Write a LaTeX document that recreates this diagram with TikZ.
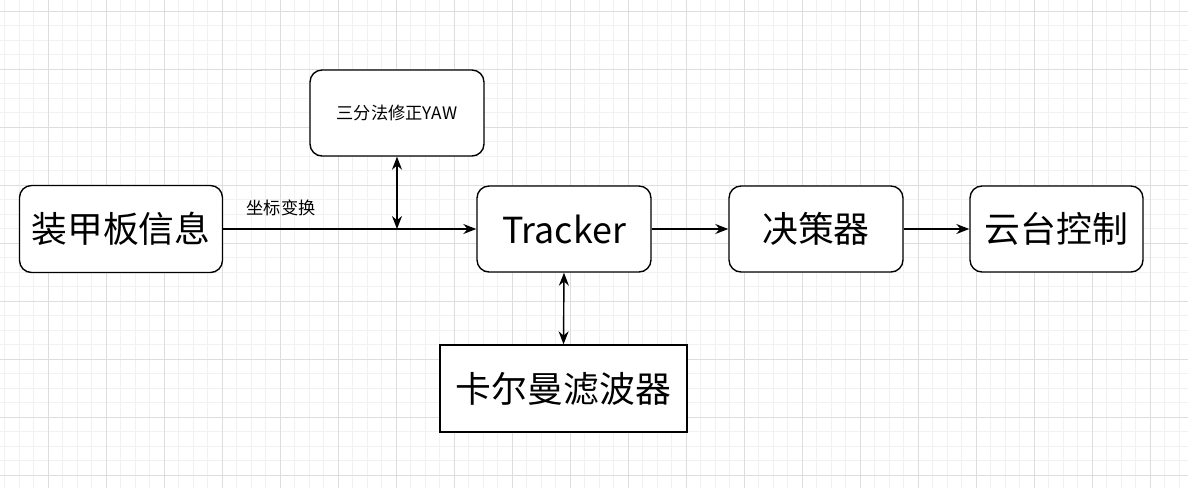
\documentclass[tikz,border=0pt]{standalone}
\usepackage{fontspec}
\setmainfont{Noto Sans CJK SC}
\usetikzlibrary{arrows.meta}
\definecolor{gridminor}{HTML}{F1F1F1}
\definecolor{gridmajor}{HTML}{DDDDDD}
\tikzset{
    blockbox/.style = {draw, line width = 0.8pt, rounded corners = 0.24cm, fill = white,
        inner sep = 0pt, minimum width = 3.48cm, minimum height = 1.72cm,
        font = \fontsize{20.4}{24}\selectfont},
    flowline/.style = {line width = 0.8pt, -{Stealth[length = 0.26cm, width = 0.2cm]}},
    dualline/.style = {line width = 0.8pt, {Stealth[length = 0.26cm, width = 0.2cm]}-{Stealth[length = 0.26cm, width = 0.2cm]}}
}
\begin{document}
\begin{tikzpicture}[x = 0.02cm, y = -0.02cm]
        \useasboundingbox (0, 0) rectangle (1188, 488);
        \fill [white] (0, 0) rectangle (1188, 488);
        % grid
        \foreach \gx in {-10, 4.5, ..., 1190} \draw [gridminor, line width = 0.5pt] (\gx, 0) -- (\gx, 488);
        \foreach \gy in {-3.2, 11.3, ..., 490} \draw [gridminor, line width = 0.5pt] (0, \gy) -- (1188, \gy);
        \foreach \gx in {48.3, 106.3, ..., 1190} \draw [gridmajor, line width = 0.6pt] (\gx, 0) -- (\gx, 488);
        \foreach \gy in {11.3, 69.3, ..., 490} \draw [gridmajor, line width = 0.6pt] (0, \gy) -- (1188, \gy);
        % blocks
        \node [blockbox, minimum width = 4.06cm, minimum height = 1.74cm] (armor) at (121, 229) {装甲板信息};
        \node [blockbox, font = \fontsize{9.8}{12}\selectfont] (yaw) at (397, 113) {三分法修正YAW};
        \node [blockbox] (tracker) at (564, 229) {Tracker};
        \node [blockbox] (decide) at (816, 229) {决策器};
        \node [blockbox, minimum width = 3.46cm] (gimbal) at (1056.5, 229) {云台控制};
        \node [blockbox, rounded corners = 0pt, minimum width = 4.94cm, minimum height = 1.74cm] (kalman) at (563.5, 388.5) {卡尔曼滤波器};
        \coordinate (junc) at (397, 229);
        % connectors
        \draw [flowline] (armor.east) -- (tracker.west);
        \node [font = \fontsize{9.8}{12}\selectfont] (coordlabel) at (281, 208) {坐标变换};
        \draw [dualline] (yaw.south) -- (junc);
        \draw [dualline] (tracker.south) -- (kalman.north);
        \draw [flowline] (tracker.east) -- (decide.west);
        \draw [flowline] (decide.east) -- (gimbal.west);
    \end{tikzpicture}
\end{document}
